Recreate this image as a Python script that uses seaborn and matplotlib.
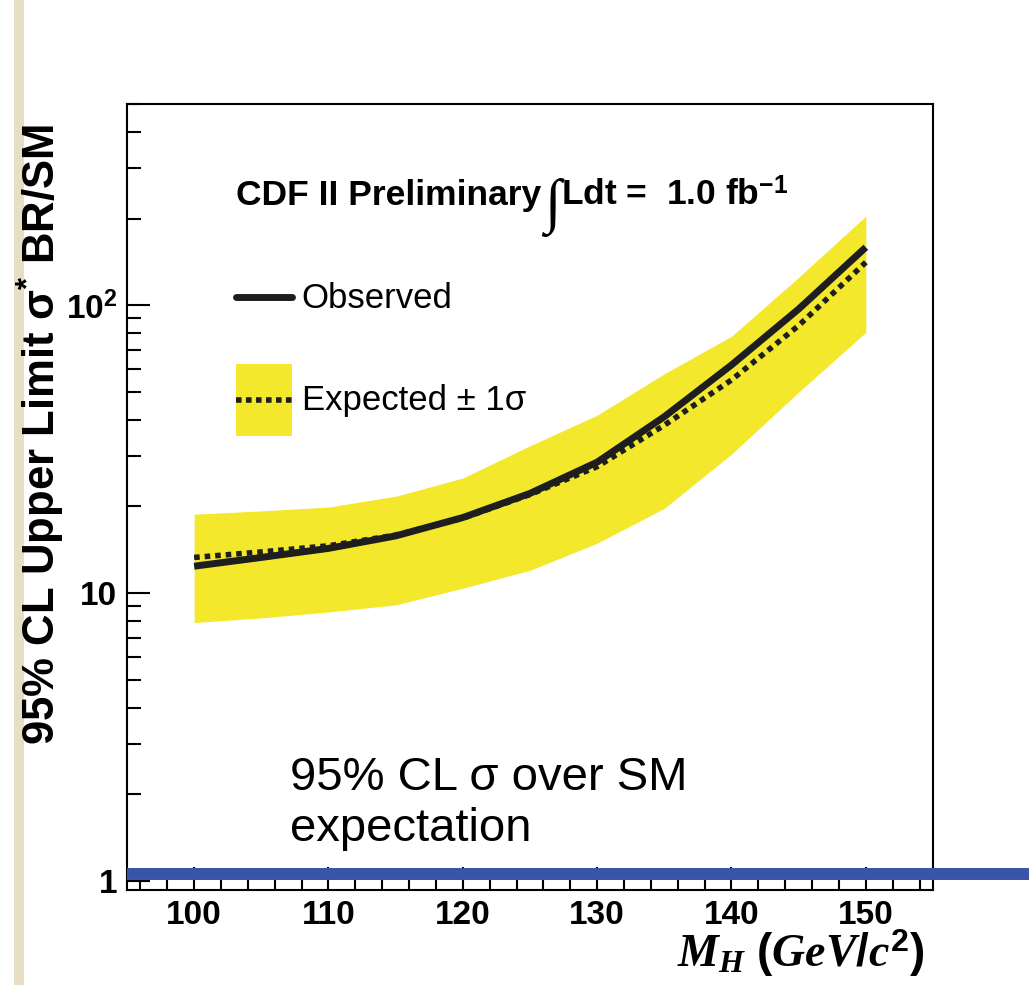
import numpy as np
import pandas as pd
import matplotlib
matplotlib.use("Agg")
import matplotlib.pyplot as plt
import seaborn as sns
from matplotlib.lines import Line2D
from matplotlib.patches import Patch, Rectangle
from matplotlib.legend_handler import HandlerTuple, HandlerLine2D
from matplotlib.ticker import LogLocator, MultipleLocator, FixedLocator, FixedFormatter, NullFormatter

# ---- data ----
mass = [100, 105, 110, 115, 120, 125, 130, 135, 140, 145, 150]
observed = [12.4, 13.3, 14.3, 15.8, 18.3, 22.2, 28.5, 41.0, 62.0, 97.0, 159.0]
expected = [13.3, 13.9, 14.6, 15.9, 18.2, 22.0, 27.5, 38.3, 55.0, 85.0, 141.0]
band_hi = [18.8, 19.3, 19.9, 21.7, 25.1, 32.5, 41.5, 57.8, 78.0, 125.0, 204.0]
band_lo = [7.9, 8.2, 8.6, 9.1, 10.4, 12.0, 14.9, 19.7, 30.4, 49.9, 80.5]
ytick_vals = [1, 10, 100]
ytick_labels = ["1", "10", r"$\mathregular{10^{2}}$"]
xtick_vals = [100, 110, 120, 130, 140, 150]
ref_level = [1.057]

df = pd.DataFrame({"mass": mass, "observed": observed, "expected": expected,
                   "hi": band_hi, "lo": band_lo})

sns.set_theme(style="ticks")
plt.rcParams["font.family"] = ["Liberation Sans", "DejaVu Sans"]
plt.rcParams["mathtext.fontset"] = "custom"
plt.rcParams["mathtext.rm"] = "Liberation Sans:bold"
plt.rcParams["mathtext.bf"] = "Liberation Sans:bold"
plt.rcParams["mathtext.it"] = "Liberation Serif:bold:italic"
plt.rcParams["axes.linewidth"] = 1.5
plt.rcParams["text.color"] = "black"
plt.rcParams["axes.labelcolor"] = "black"
plt.rcParams["legend.labelcolor"] = "black"

YELLOW = "#f3e82c"
DARK = "#1e1e1e"


class CenteredLine(HandlerLine2D):
    def create_artists(self, legend, orig_handle, xdescent, ydescent, width, height,
                       fontsize, trans):
        arts = super().create_artists(legend, orig_handle, xdescent, ydescent, width,
                                      height, fontsize, trans)
        for a in arts:
            a.set_ydata(np.full_like(np.asarray(a.get_xdata(), dtype=float),
                                     height / 2 - ydescent))
        return arts


fig = plt.figure(figsize=(10.29, 9.85), dpi=100)
fig.patch.set_facecolor("white")

# beige stripe at left edge (drawn beneath everything else)
fig.add_artist(Rectangle((14 / 1029, 0), 10 / 1029, 1, transform=fig.transFigure,
                         facecolor="#e6dfc3", edgecolor="none", zorder=-5))

ax = fig.add_axes([0.1234, 0.0964, 0.7833, 0.798])
ax.patch.set_alpha(0)

ax.fill_between(df["mass"], df["lo"], df["hi"], color=YELLOW, linewidth=0, zorder=1)
sns.lineplot(data=df, x="mass", y="expected", ax=ax, color=DARK, linewidth=4,
             linestyle=(0, (1, 0.9)), zorder=3)
sns.lineplot(data=df, x="mass", y="observed", ax=ax, color=DARK, linewidth=5,
             solid_capstyle="butt", zorder=4)

ax.set_yscale("log")
ax.set_xlim(95, 155)
ax.set_ylim(0.93, 500)

ax.yaxis.set_major_locator(FixedLocator(ytick_vals))
ax.yaxis.set_major_formatter(FixedFormatter(ytick_labels))
ax.yaxis.set_minor_locator(LogLocator(base=10, subs=np.arange(2, 10)))
ax.yaxis.set_minor_formatter(NullFormatter())
ax.xaxis.set_major_locator(FixedLocator(xtick_vals))
ax.xaxis.set_minor_locator(MultipleLocator(2))

ax.tick_params(axis="both", which="both", direction="in", top=False, right=False,
               colors="black", width=1.5)
ax.tick_params(axis="both", which="major", length=16.5, labelsize=24, pad=7)
ax.tick_params(axis="y", which="minor", length=10)
ax.tick_params(axis="x", which="minor", length=7)
for lab in ax.get_xticklabels() + ax.get_yticklabels():
    lab.set_fontweight("bold")

for s in ax.spines.values():
    s.set_color("black")
    s.set_linewidth(1.5)

ax.set_xlabel(r"$\mathit{M_{H}\ (GeV/c^{2})}$", fontsize=33, ha="right", va="baseline")
ax.xaxis.set_label_coords(0.99, -0.098)
ax.set_ylabel(r"95% CL Upper Limit $\mathregular{\sigma^{*}}$ BR/SM", fontsize=31.5,
              fontweight="bold", ha="center", va="baseline")
ax.yaxis.label.set_rotation_mode("anchor")
ax.yaxis.set_label_coords(-0.0885, 0.579)

# title-like annotation
ty = 0.871
t1 = ax.text(0.135, ty, "CDF II Preliminary", transform=ax.transAxes, fontsize=25.5,
             fontweight="bold", va="baseline", ha="left")
t2 = ax.annotate("\u222b", xy=(1, ty), xycoords=(t1, "axes fraction"),
                 xytext=(2, -12), textcoords="offset points", fontsize=43,
                 family=["Liberation Serif", "DejaVu Serif"], va="baseline", ha="left")
t3 = ax.annotate(r"Ldt =  1.0 fb$^{\mathregular{-1}}$", xy=(1, ty),
                 xycoords=(t2, "axes fraction"), xytext=(1, 0), textcoords="offset points",
                 fontsize=25.5, fontweight="bold", va="baseline", ha="left")

# legend
h_obs = Line2D([], [], color=DARK, linewidth=5)
h_exp = (Patch(facecolor=YELLOW, edgecolor="none"),
         Line2D([], [], color=DARK, linewidth=4, linestyle=(0, (1, 0.8))))
leg = ax.legend([h_obs, h_exp], ["Observed", "Expected \u00b1 1\u03c3"],
                handler_map={tuple: HandlerTuple(ndivide=1, pad=0),
                             Line2D: CenteredLine()},
                loc="upper left", bbox_to_anchor=(0.135, 0.80), frameon=False,
                fontsize=25, handlelength=1.61, handleheight=2.81, labelspacing=0.89,
                handletextpad=0.29, borderpad=0, borderaxespad=0)

ax.text(0.202, 0.062, "95% CL \u03c3 over SM\nexpectation", transform=ax.transAxes,
        fontsize=34, va="baseline", ha="left", color="black", linespacing=1.22)

# blue reference line at ~1
ax.axhline(ref_level[0], xmin=0, xmax=1.13, color="#3a55a7", linewidth=8.6,
           solid_capstyle="butt", clip_on=False, zorder=6)

fig.savefig("out.png", dpi=100)
